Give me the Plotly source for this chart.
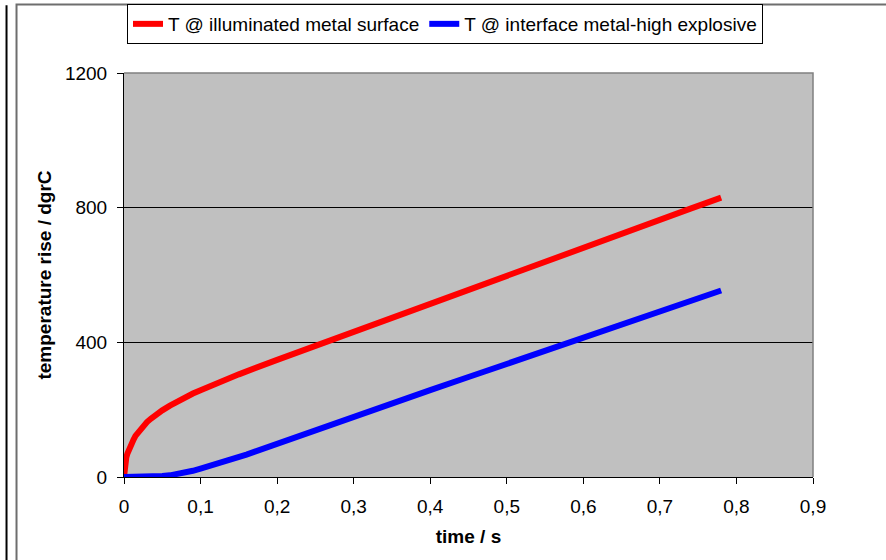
import plotly.graph_objects as go

# Surface temperature rise (illuminated side of the metal plate)
t_surface = [0, 0.001, 0.002, 0.003, 0.0045, 0.006, 0.008, 0.01, 0.0125, 0.015,
             0.0175, 0.02, 0.025, 0.03, 0.035, 0.04, 0.045, 0.05, 0.06, 0.07,
             0.08, 0.09, 0.10, 0.12, 0.15, 0.20, 0.25, 0.30, 0.35, 0.40, 0.45,
             0.50, 0.55, 0.60, 0.65, 0.70, 0.74, 0.78]
T_surface = [0, 35, 48, 58, 70, 80, 91, 100, 111, 122,
             130, 138, 151, 163, 173, 182, 190, 198, 212, 225,
             237, 248, 258, 278, 305, 348, 390, 432, 474, 515, 557,
             598, 640, 681, 722, 764, 797, 830]

# Temperature rise at the metal / high-explosive interface
t_interface = [0, 0.02, 0.03, 0.04, 0.05, 0.06, 0.07, 0.08, 0.09, 0.10, 0.11,
               0.12, 0.13, 0.14, 0.15, 0.16, 0.17, 0.18, 0.19, 0.25, 0.30,
               0.35, 0.40, 0.45, 0.50, 0.55, 0.60, 0.65, 0.70, 0.78]
T_interface = [0, 0, 0.5, 1.5, 3, 5, 8.5, 13, 18.5, 25, 31.2,
               37.7, 44.5, 51.6, 59, 66.6, 74.4, 82.2, 90, 138, 178,
               218, 258, 297, 336, 375, 414, 453, 492, 554]

x_ticks = [0, 0.1, 0.2, 0.3, 0.4, 0.5, 0.6, 0.7, 0.8, 0.9]
y_ticks = [0, 400, 800, 1200]

FONT = "Liberation Sans, Arial, sans-serif"

fig = go.Figure()
fig.add_trace(go.Scatter(x=t_surface, y=T_surface, mode="lines",
                         name="T @ illuminated metal surface",
                         line=dict(color="#ff0000", width=6)))
fig.add_trace(go.Scatter(x=t_interface, y=T_interface, mode="lines",
                         name="T @ interface metal-high explosive",
                         line=dict(color="#0000ff", width=6)))

fig.update_layout(
    width=886, height=560,
    margin=dict(l=124, r=73, t=73, b=83, autoexpand=False),
    paper_bgcolor="white",
    plot_bgcolor="#c0c0c0",
    separators=", ",
    font=dict(family=FONT, size=19, color="black"),
    showlegend=True,
    legend=dict(orientation="h", xref="container", yref="container",
                x=127 / 886, y=1 - 4 / 560, xanchor="left", yanchor="top",
                bgcolor="white", bordercolor="black", borderwidth=1,
                font=dict(size=19, family=FONT, color="black"),
                tracegroupgap=0, itemwidth=30),
    shapes=[
        # outer frame of the page
        dict(type="line", xref="paper", yref="paper", x0=-0.1705, x1=-0.1705,
             y0=1.168, y1=-0.25, line=dict(color="black", width=2)),
        dict(type="rect", xref="paper", yref="paper", x0=-0.156, x1=1.3,
             y0=-0.3, y1=1.1695, line=dict(color="#6e6e6e", width=2)),
        # grey border on top and right of the plot area
        dict(type="path", xref="paper", yref="paper", path="M 0,1 L 1,1 L 1,0",
             line=dict(color="#808080", width=1.5), layer="above"),
    ],
)

fig.update_xaxes(range=[0, 0.9], tickvals=x_ticks,
                 ticktext=[f"{v:g}".replace(".", ",") for v in x_ticks],
                 showgrid=False, zeroline=False,
                 showline=True, linecolor="black", linewidth=1,
                 ticks="outside", ticklen=6, tickcolor="black", ticklabelstandoff=6,
                 tickfont=dict(size=19, family=FONT, color="black"),
                 title=dict(text="<b>time / s</b>", font=dict(size=19, family=FONT), standoff=13))
fig.update_yaxes(range=[0, 1200], tickvals=y_ticks,
                 showgrid=True, gridcolor="black", gridwidth=1, zeroline=False,
                 showline=True, linecolor="black", linewidth=1,
                 ticks="outside", ticklen=6, tickcolor="black", ticklabelstandoff=6,
                 tickfont=dict(size=19, family=FONT, color="black"),
                 title=dict(text="<b>temperature rise / dgrC</b>", font=dict(size=19, family=FONT), standoff=8))

fig.write_html("out.html")
